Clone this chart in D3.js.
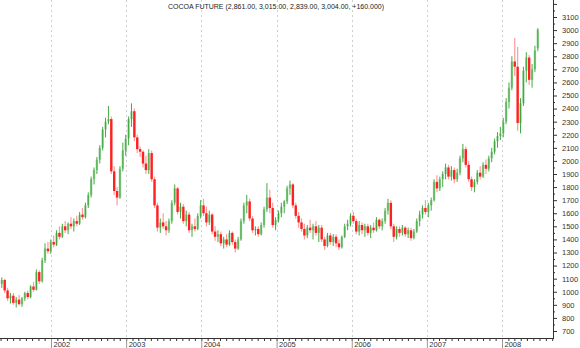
<!DOCTYPE html>
<html>
<head>
<meta charset="utf-8">
<script src="https://cdn.jsdelivr.net/npm/d3@7"></script>
<style>
  body { margin: 0; background: #fff; }
  svg { display: block; }
  text { font-family: "Liberation Sans", Arial, sans-serif; }
</style>
</head>
<body>
<svg id="chart" width="580" height="348"></svg>
<script>
var title = "COCOA FUTURE (2,861.00, 3,015.00, 2,839.00, 3,004.00, +160.000)";
var firstBar = new Date(2001, 4, 7);   // bars are two weeks apart

// one row per year: 2001 (from May), 2002 ... 2008 (to June)
var opens = [
  1060,1090,1010,950,970,915,940,905,950,990,960,1040,1015,1150,1080,1240,1330,
  1310,1380,1360,1450,1420,1500,1470,1520,1500,1540,1520,1590,1570,1660,1740,1860,1930,2010,2100,2240,2300,2320,1920,1770,1720,1940,
  2080,2170,2320,2380,2180,2090,2070,1980,1930,2060,1860,1660,1490,1530,1500,1470,1540,1680,1790,1610,1650,1540,1590,1470,1500,1480,
  1580,1660,1600,1530,1590,1460,1420,1440,1370,1400,1360,1450,1380,1330,1400,1540,1660,1690,1560,1470,1480,1440,1510,1630,1720,1640,
  1510,1550,1600,1650,1690,1790,1820,1660,1580,1530,1480,1430,1490,1470,1500,1450,1490,1400,1350,1430,1380,1420,1370,1340,1420,1500,
  1520,1580,1540,1460,1510,1470,1500,1450,1490,1470,1550,1500,1540,1620,1680,1500,1420,1480,1450,1490,1440,1470,1410,1460,1540,1590,
  1640,1610,1660,1700,1840,1790,1860,1900,1950,1880,1930,1860,1910,2020,2090,1970,1860,1800,1840,1910,1880,1970,1940,2020,2070,2150,
  2190,2210,2300,2450,2560,2760,2720,2290,2440,2690,2790,2620,2700,2861
];
var highs = [
  1110,1100,1030,990,990,960,975,960,1000,1010,1050,1075,1170,1165,1260,1370,1380,
  1400,1430,1470,1500,1520,1540,1530,1570,1560,1580,1610,1640,1680,1760,1880,1950,2030,2120,2260,2330,2420,2340,1960,1800,1960,2140,
  2200,2340,2440,2400,2200,2110,2080,2040,2090,2080,1880,1680,1560,1600,1540,1560,1700,1820,1800,1680,1670,1620,1610,1520,1560,1600,
  1700,1710,1650,1620,1600,1500,1470,1460,1420,1440,1470,1460,1400,1420,1560,1680,1740,1710,1580,1500,1500,1530,1650,1830,1780,1680,
  1570,1620,1680,1700,1810,1850,1830,1680,1610,1560,1520,1510,1550,1520,1540,1510,1510,1420,1450,1450,1440,1440,1400,1430,1520,1550,
  1600,1610,1560,1540,1530,1520,1520,1510,1530,1570,1560,1560,1640,1710,1700,1520,1500,1500,1510,1500,1490,1490,1480,1560,1620,1660,
  1700,1680,1720,1860,1890,1880,1920,1980,1970,1960,1950,1940,2040,2130,2110,2000,1880,1860,1930,1960,1990,2010,2040,2100,2170,2220,
  2260,2330,2480,2600,2800,2940,2870,2480,2720,2830,2810,2740,2880,3015
];
var lows = [
  1030,990,930,910,900,880,895,885,930,945,950,1000,1010,1060,1070,1220,1290,
  1290,1340,1350,1400,1410,1450,1440,1480,1460,1500,1510,1550,1560,1640,1720,1820,1900,1980,2080,2180,2280,1900,1740,1660,1710,1920,
  2040,2120,2260,2150,2060,2030,1950,1900,1900,1840,1640,1460,1450,1480,1430,1450,1520,1660,1590,1560,1520,1500,1450,1420,1460,1470,
  1560,1580,1500,1510,1440,1390,1380,1350,1330,1340,1350,1360,1300,1320,1390,1520,1600,1540,1450,1430,1420,1430,1490,1610,1600,1490,
  1470,1530,1570,1600,1670,1740,1640,1560,1490,1460,1400,1410,1450,1400,1430,1380,1380,1320,1340,1360,1350,1340,1320,1330,1410,1470,
  1500,1520,1440,1430,1440,1420,1430,1410,1450,1460,1480,1470,1520,1590,1480,1380,1400,1420,1430,1420,1410,1390,1400,1450,1500,1560,
  1590,1570,1620,1690,1760,1770,1800,1860,1860,1850,1830,1840,1890,1990,1950,1840,1770,1760,1820,1860,1870,1900,1920,1990,2050,2100,
  2160,2180,2280,2400,2540,2650,2230,2210,2420,2600,2580,2560,2680,2839
];
var closes = [
  1090,1010,950,970,915,940,905,950,990,960,1040,1015,1150,1080,1240,1330,1310,
  1380,1360,1450,1420,1500,1470,1520,1500,1540,1520,1590,1570,1660,1740,1860,1930,2010,2100,2240,2300,2320,1920,1770,1720,1940,2080,
  2170,2320,2380,2180,2090,2070,1980,1930,2060,1860,1660,1490,1530,1500,1470,1540,1680,1790,1610,1650,1540,1590,1470,1500,1480,1580,
  1660,1600,1530,1590,1460,1420,1440,1370,1400,1360,1450,1380,1330,1400,1540,1660,1690,1560,1470,1480,1440,1510,1630,1720,1640,1510,
  1550,1600,1650,1690,1790,1820,1660,1580,1530,1480,1430,1490,1470,1500,1450,1490,1400,1350,1430,1380,1420,1370,1340,1420,1500,1520,
  1580,1540,1460,1510,1470,1500,1450,1490,1470,1550,1500,1540,1620,1680,1500,1420,1480,1450,1490,1440,1470,1410,1460,1540,1590,1640,
  1610,1660,1700,1840,1790,1860,1900,1950,1880,1930,1860,1910,2020,2090,1970,1860,1800,1840,1910,1880,1970,1940,2020,2070,2150,2190,
  2210,2300,2450,2560,2760,2720,2290,2440,2690,2790,2620,2700,2844,3004
];
var priceTicks = d3.range(700, 3201, 100);
var priceMinor = d3.range(750, 3201, 100);

var W = 580, H = 348, axisX = 553, axisY = 338;
var svg = d3.select("#chart");

var x = d3.scaleTime()
    .domain([new Date(2002, 0, 1), new Date(2008, 0, 1)])
    .range([51, 502]);
var xa = x.copy().domain([x.invert(0), x.invert(axisX)]).range([0, axisX]);
var y = d3.scaleLinear().domain([700, 3100]).range([331, 17]);

var bars = closes.map(function(c, i) {
  return { date: d3.timeDay.offset(firstBar, 14 * i), o: opens[i], h: highs[i], l: lows[i], c: c };
});
var years = d3.timeYear.range(new Date(2002, 0, 1), xa.domain()[1]);

// dashed year grid
svg.append("g").selectAll("line")
    .data(years).enter().append("line")
    .attr("x1", function(d) { return Math.round(x(d)) + 0.5; })
    .attr("x2", function(d) { return Math.round(x(d)) + 0.5; })
    .attr("y1", 0).attr("y2", axisY)
    .attr("stroke", "#cfcfcf")
    .attr("stroke-dasharray", "2,3");

// candles
var bw = 2.4;
var cg = svg.append("g").selectAll("g")
    .data(bars).enter().append("g")
    .attr("transform", function(d) { return "translate(" + x(d.date) + ",0)"; });

cg.filter(function(d) { return d.c < d.o; }).append("line")
    .attr("y1", function(d) { return y(d.h); })
    .attr("y2", function(d) { return y(d.l); })
    .attr("stroke", "#ff9a9a").attr("stroke-width", 1.2);

cg.append("rect")
    .attr("x", -bw / 2)
    .attr("width", bw)
    .attr("y", function(d) { return y(Math.max(d.o, d.c)); })
    .attr("height", function(d) { return Math.max(1, Math.abs(y(d.o) - y(d.c))); })
    .attr("fill", function(d) { return d.c >= d.o ? "#9fd69f" : "#ff2020"; });

cg.filter(function(d) { return d.c >= d.o; }).append("line")
    .attr("y1", function(d) { return y(d.h); })
    .attr("y2", function(d) { return y(d.l); })
    .attr("stroke", "#2f9f2f").attr("stroke-width", 0.9);

// x axis: month ticks, year ticks with labels
svg.append("g")
    .attr("transform", "translate(0," + axisY + ")")
    .call(d3.axisBottom(xa).tickValues(d3.timeMonth.range(xa.domain()[0], xa.domain()[1])).tickSize(3).tickFormat(""))
    .call(function(g) {
      g.select(".domain").remove();
      g.selectAll("line").attr("stroke", "#333");
    });

svg.append("g")
    .attr("transform", "translate(0," + axisY + ")")
    .call(d3.axisBottom(xa).tickValues(years).tickSize(10).tickFormat(d3.timeFormat("%Y")))
    .call(function(g) {
      g.select(".domain").remove();
      g.selectAll("line").attr("stroke", "#999");
      g.selectAll("text")
          .attr("x", 2).attr("y", 9).attr("dy", null)
          .attr("text-anchor", "start")
          .attr("fill", "#333")
          .style("font-size", "7.5px");
    });

svg.append("line")
    .attr("x1", 0).attr("x2", axisX)
    .attr("y1", axisY + 0.5).attr("y2", axisY + 0.5)
    .attr("stroke", "#333");

// y axis on the right
svg.append("g")
    .attr("transform", "translate(" + axisX + ",0)")
    .call(d3.axisRight(y).tickValues(priceMinor).tickSize(2).tickFormat(""))
    .call(function(g) {
      g.select(".domain").remove();
      g.selectAll("line").attr("stroke", "#333");
    });

svg.append("g")
    .attr("transform", "translate(" + axisX + ",0)")
    .call(d3.axisRight(y).tickValues(priceTicks).tickSize(4).tickPadding(5)
        .tickFormat(function(d) { return d <= 3100 ? d : ""; }))
    .call(function(g) {
      g.select(".domain").remove();
      g.selectAll("line").attr("stroke", "#333");
      g.selectAll("text").attr("fill", "#333").style("font-size", "7.5px");
    });

svg.append("line")
    .attr("x1", axisX + 0.5).attr("x2", axisX + 0.5)
    .attr("y1", 0).attr("y2", axisY + 1)
    .attr("stroke", "#333");

// title
svg.append("text")
    .attr("x", 276).attr("y", 9)
    .attr("text-anchor", "middle")
    .attr("fill", "#222")
    .style("font-size", "7px")
    .text(title);
</script>
</body>
</html>
